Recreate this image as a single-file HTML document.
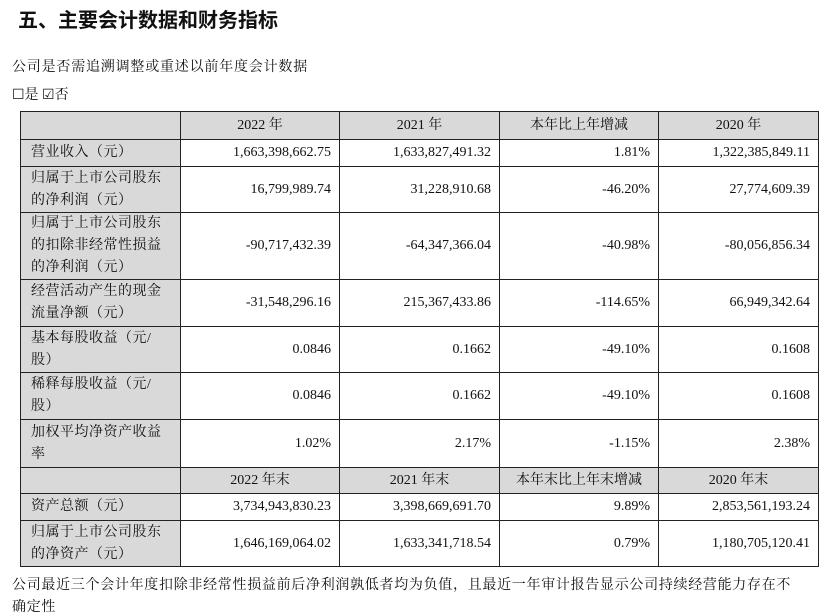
<!DOCTYPE html>
<html><head><meta charset="utf-8"><style>
body{margin:0;width:830px;height:613px;background:#fff;overflow:hidden;font-family:"Liberation Serif","Noto Serif CJK SC",serif;color:#111;position:relative}
.t{position:absolute;white-space:nowrap}
table{position:absolute;left:20px;top:111px;border-collapse:collapse;font-size:14px;table-layout:fixed}
td{border:1.5px solid #222;padding:0 8px;line-height:22px;overflow:hidden}
td.g{background:#d9d9d9}
td.l{background:#d9d9d9;text-align:left;padding-left:10px;letter-spacing:0.5px}
td.n{text-align:right;padding-right:8px}
td.c{text-align:center}
</style></head><body>
<div class="t" style="left:18px;top:4px;font-size:20px;font-weight:bold;font-family:'Noto Sans CJK SC',sans-serif">五、主要会计数据和财务指标</div>
<div class="t" style="left:12px;top:56px;font-size:14px;letter-spacing:0.8px">公司是否需追溯调整或重述以前年度会计数据</div>
<div class="t" style="left:12px;top:84px;font-size:14px">☐是 ☑否</div>
<table>
<colgroup><col style="width:160px"><col style="width:159px"><col style="width:160px"><col style="width:159px"><col style="width:160px"></colgroup>
<tr style="height:28px"><td class="g"></td><td class="g c">2022 年</td><td class="g c">2021 年</td><td class="g c">本年比上年增减</td><td class="g c">2020 年</td></tr>
<tr style="height:27px"><td class="l">营业收入（元）</td><td class="n">1,663,398,662.75</td><td class="n">1,633,827,491.32</td><td class="n">1.81%</td><td class="n">1,322,385,849.11</td></tr>
<tr style="height:46px"><td class="l">归属于上市公司股东的净利润（元）</td><td class="n">16,799,989.74</td><td class="n">31,228,910.68</td><td class="n">-46.20%</td><td class="n">27,774,609.39</td></tr>
<tr style="height:67px"><td class="l">归属于上市公司股东的扣除非经常性损益的净利润（元）</td><td class="n">-90,717,432.39</td><td class="n">-64,347,366.04</td><td class="n">-40.98%</td><td class="n">-80,056,856.34</td></tr>
<tr style="height:47px"><td class="l">经营活动产生的现金流量净额（元）</td><td class="n">-31,548,296.16</td><td class="n">215,367,433.86</td><td class="n">-114.65%</td><td class="n">66,949,342.64</td></tr>
<tr style="height:46px"><td class="l">基本每股收益（元/股）</td><td class="n">0.0846</td><td class="n">0.1662</td><td class="n">-49.10%</td><td class="n">0.1608</td></tr>
<tr style="height:47px"><td class="l">稀释每股收益（元/股）</td><td class="n">0.0846</td><td class="n">0.1662</td><td class="n">-49.10%</td><td class="n">0.1608</td></tr>
<tr style="height:48px"><td class="l">加权平均净资产收益率</td><td class="n">1.02%</td><td class="n">2.17%</td><td class="n">-1.15%</td><td class="n">2.38%</td></tr>
<tr style="height:26px"><td class="g"></td><td class="g c">2022 年末</td><td class="g c">2021 年末</td><td class="g c">本年末比上年末增减</td><td class="g c">2020 年末</td></tr>
<tr style="height:27px"><td class="l">资产总额（元）</td><td class="n">3,734,943,830.23</td><td class="n">3,398,669,691.70</td><td class="n">9.89%</td><td class="n">2,853,561,193.24</td></tr>
<tr style="height:46px"><td class="l">归属于上市公司股东的净资产（元）</td><td class="n">1,646,169,064.02</td><td class="n">1,633,341,718.54</td><td class="n">0.79%</td><td class="n">1,180,705,120.41</td></tr>
</table>
<div class="t" style="left:12px;top:574px;font-size:14px;letter-spacing:0.7px">公司最近三个会计年度扣除非经常性损益前后净利润孰低者均为负值，且最近一年审计报告显示公司持续经营能力存在不</div>
<div class="t" style="left:12px;top:596px;font-size:14px;letter-spacing:0.7px">确定性</div>
</body></html>
